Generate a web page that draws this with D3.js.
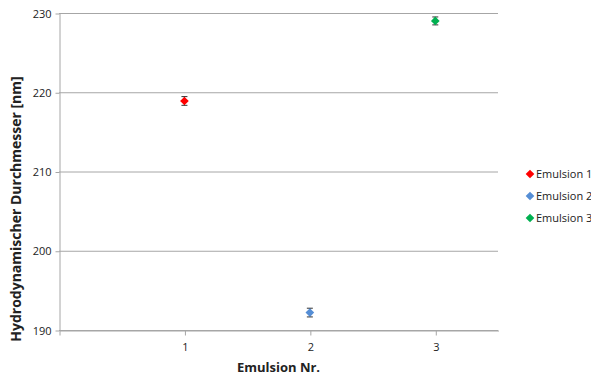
<!DOCTYPE html>
<html>
<head>
<meta charset="utf-8">
<script src="https://cdn.jsdelivr.net/npm/d3@7"></script>
<style>
  body { margin: 0; background: #fff; }
  svg text { font-family: "Open Sans", "DejaVu Sans", sans-serif; fill: #222; }
</style>
</head>
<body>
<svg width="591" height="378"></svg>
<script>
var svg = d3.select("svg"),
    width = +svg.attr("width"),
    height = +svg.attr("height");

// data
var series = ["Emulsion 1", "Emulsion 2", "Emulsion 3"];
var xValues = [1, 2, 3];
var yValues = [218.9, 192.2, 229.0];
var yErrors = [0.55, 0.55, 0.5];
var colors = ["#ff0000", "#558ed5", "#00b050"];
var yTicks = [190, 200, 210, 220, 230];
var xTicks = [1, 2, 3];

var margin = { left: 59, right: 93, top: 13, bottom: 48 };

var x = d3.scaleLinear().domain([0, 3.5]).range([margin.left, width - margin.right]);
var y = d3.scaleLinear().domain([190, 230]).range([height - margin.bottom, margin.top]);

// gridlines
svg.append("g")
    .selectAll("line")
    .data(yTicks)
    .enter().append("line")
    .attr("x1", x(0)).attr("x2", x(3.5))
    .attr("y1", function(d) { return y(d) + 0.5; })
    .attr("y2", function(d) { return y(d) + 0.5; })
    .attr("stroke", "#a6a6a6")
    .attr("stroke-width", 1);

// y axis
var yAxis = svg.append("g")
    .attr("transform", "translate(" + (x(0) + 0.5) + ",0.5)")
    .call(d3.axisLeft(y).tickValues(yTicks).tickSize(4).tickSizeOuter(0).tickPadding(4));
yAxis.select(".domain").attr("stroke", "#a6a6a6");
yAxis.selectAll(".tick line").attr("stroke", "#a6a6a6");
yAxis.selectAll(".tick text").style("font-size", "11px").attr("fill", "#333");

// x axis
var xAxis = svg.append("g")
    .attr("transform", "translate(0.5," + (y(190) + 0.5) + ")")
    .call(d3.axisBottom(x).tickValues([0].concat(xTicks)).tickSize(5).tickSizeOuter(0).tickPadding(8)
        .tickFormat(function(d) { return d === 0 ? "" : d; }));
xAxis.select(".domain").attr("stroke", "#a6a6a6");
xAxis.selectAll(".tick line").attr("stroke", "#a6a6a6");
xAxis.selectAll(".tick text").style("font-size", "11px").attr("fill", "#333");

// axis titles
svg.append("text")
    .attr("x", (x(0) + x(3.5)) / 2)
    .attr("y", 372)
    .attr("text-anchor", "middle")
    .style("font-size", "13px")
    .style("font-weight", "bold")
    .text("Emulsion Nr.");

svg.append("text")
    .attr("transform", "translate(21,209) rotate(-90)")
    .attr("text-anchor", "middle")
    .style("font-size", "14px")
    .style("font-weight", "bold")
    .text("Hydrodynamischer Durchmesser [nm]");

var diamond = d3.symbol().type(d3.symbolDiamond2).size(48);

// error bars + points
var pts = svg.append("g").selectAll("g")
    .data(series)
    .enter().append("g");

pts.append("line")
    .attr("x1", function(d, i) { return x(xValues[i]); })
    .attr("x2", function(d, i) { return x(xValues[i]); })
    .attr("y1", function(d, i) { return y(yValues[i] - yErrors[i]); })
    .attr("y2", function(d, i) { return y(yValues[i] + yErrors[i]); })
    .attr("stroke", "#333").attr("stroke-width", 1);

[-1, 1].forEach(function(s) {
  pts.append("line")
      .attr("x1", function(d, i) { return x(xValues[i]) - 3; })
      .attr("x2", function(d, i) { return x(xValues[i]) + 3; })
      .attr("y1", function(d, i) { return y(yValues[i] + s * yErrors[i]); })
      .attr("y2", function(d, i) { return y(yValues[i] + s * yErrors[i]); })
      .attr("stroke", "#333").attr("stroke-width", 1);
});

pts.append("path")
    .attr("d", diamond)
    .attr("transform", function(d, i) { return "translate(" + x(xValues[i]) + "," + y(yValues[i]) + ")"; })
    .attr("fill", function(d, i) { return colors[i]; });

// legend
var legend = svg.append("g").selectAll("g")
    .data(series)
    .enter().append("g")
    .attr("transform", function(d, i) { return "translate(530," + (174 + i * 22) + ")"; });

legend.append("path")
    .attr("d", diamond)
    .attr("fill", function(d, i) { return colors[i]; });

legend.append("text")
    .attr("x", 6)
    .attr("y", 4)
    .style("font-size", "11px")
    .text(function(d) { return d; });
</script>
</body>
</html>
